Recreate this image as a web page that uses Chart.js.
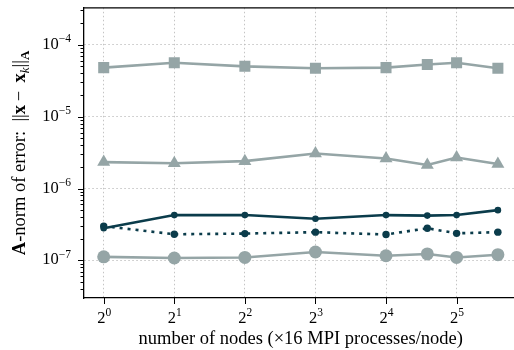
<!DOCTYPE html>
<html>
<head>
<meta charset="utf-8">
<script src="https://cdn.jsdelivr.net/npm/chart.js@4.4.1/dist/chart.umd.min.js"></script>
<style>
  html, body { margin: 0; padding: 0; background: #fff; overflow: hidden; }
  #wrap { position: relative; width: 514px; height: 350px; overflow: hidden; }
  canvas { position: absolute; left: 0; top: 0; }
</style>
</head>
<body>
<div id="wrap"><canvas id="errChart" width="530" height="350"></canvas></div>
<script>
// number of nodes (x16 MPI processes each)
const nodes = [1, 2, 4, 8, 16, 24, 32, 48];

// A-norm of the error per run
const errSquares   = [4.8e-5, 5.6e-5, 5.0e-5, 4.7e-5, 4.8e-5, 5.3e-5, 5.6e-5, 4.7e-5];
const errTriangles = [2.33e-6, 2.24e-6, 2.4e-6, 3.07e-6, 2.62e-6, 2.12e-6, 2.7e-6, 2.19e-6];
const errSolid     = [2.8e-7, 4.27e-7, 4.27e-7, 3.8e-7, 4.27e-7, 4.2e-7, 4.27e-7, 5.0e-7];
const errDotted    = [3.0e-7, 2.31e-7, 2.36e-7, 2.47e-7, 2.29e-7, 2.8e-7, 2.38e-7, 2.47e-7];
const errCircles   = [1.12e-7, 1.08e-7, 1.1e-7, 1.31e-7, 1.16e-7, 1.23e-7, 1.1e-7, 1.2e-7];

// axis ticks: value, base, exponent
const xTicks = [1, 2, 4, 8, 16, 32];
const xTickExps = ['0', '1', '2', '3', '4', '5'];
const yTicks = [1e-7, 1e-6, 1e-5, 1e-4];
const yTickExps = ['−7', '−6', '−5', '−4'];

const GREY = '#95a5a6';
const DARK = '#0b3c4b';
const SERIF = '"Liberation Serif", "DejaVu Serif", serif';

const xMin = 0.824, xMax = 58.2;
const yMin = 3.13e-8, yMax = 3.26e-4;

// every 1..9 x 10^k inside the y range, for minor tick marks
const yAllTicks = [];
for (let e = -8; e <= -3; e++) {
  for (let m = 1; m <= 9; m++) {
    const v = m * Math.pow(10, e);
    if (v >= yMin && v <= yMax) yAllTicks.push(v);
  }
}
const isDecade = v => Math.abs(Math.log10(v) - Math.round(Math.log10(v))) < 1e-9;

function series(data, style) {
  return Object.assign({
    data: nodes.map((n, i) => ({ x: n, y: data[i] })),
    tension: 0,
    borderWidth: 2.6,
    pointBorderWidth: 0,
    pointHoverRadius: 0
  }, style);
}

// draws a run list (text + font + vertical shift) starting at x, returns width
function measureRuns(ctx, runs) {
  let w = 0;
  runs.forEach(r => { ctx.font = r.f; r.w = ctx.measureText(r.t).width; w += r.w; });
  return w;
}
function drawRuns(ctx, runs, x, y) {
  runs.forEach(r => {
    ctx.font = r.f;
    ctx.fillText(r.t, x, y + (r.dy || 0));
    x += r.w;
  });
}

const BASE = '16.5px ' + SERIF;
const SUP = '11.5px ' + SERIF;

// top spine, tick marks, tick labels with exponents and the mixed-font y title
const framePlugin = {
  id: 'frame',
  afterDraw(chart) {
    const ctx = chart.ctx;
    const a = chart.chartArea;
    const xs = chart.scales.x, ys = chart.scales.y;
    ctx.save();
    ctx.strokeStyle = '#000';
    ctx.lineWidth = 1.3;
    ctx.beginPath();
    ctx.moveTo(a.left - 0.6, a.top);
    ctx.lineTo(a.right, a.top);
    ctx.stroke();

    ctx.lineWidth = 1;
    ctx.beginPath();
    yAllTicks.forEach(v => {
      const y = Math.round(ys.getPixelForValue(v)) + 0.5;
      const len = isDecade(v) ? 6 : 3.5;
      ctx.moveTo(a.left, y);
      ctx.lineTo(a.left - len, y);
    });
    xTicks.forEach(v => {
      const x = Math.round(xs.getPixelForValue(v)) + 0.5;
      ctx.moveTo(x, a.bottom);
      ctx.lineTo(x, a.bottom + 6);
    });
    ctx.stroke();

    ctx.fillStyle = '#000';
    ctx.textBaseline = 'alphabetic';
    ctx.textAlign = 'left';

    yTicks.forEach((v, i) => {
      const runs = [{ t: '10', f: BASE }, { t: yTickExps[i], f: SUP, dy: -6.5 }];
      const w = measureRuns(ctx, runs);
      drawRuns(ctx, runs, a.left - 13 - w, ys.getPixelForValue(v) + 4);
    });
    xTicks.forEach((v, i) => {
      const runs = [{ t: '2', f: BASE }, { t: xTickExps[i], f: SUP, dy: -7 }];
      const w = measureRuns(ctx, runs);
      drawRuns(ctx, runs, xs.getPixelForValue(v) - w / 2 + 0.5, a.bottom + 25);
    });

    // A-norm of error: ||x - x_k||_A
    const T = '18.5px ' + SERIF;
    const runs = [
      { t: 'A', f: 'bold ' + T },
      { t: '-norm of error:  ', f: T },
      { t: '||', f: T },
      { t: 'x', f: 'bold ' + T },
      { t: '\u2009−\u2009 ', f: T },
      { t: 'x', f: 'bold ' + T },
      { t: 'k', f: 'italic 13px ' + SERIF, dy: 3.5 },
      { t: '||', f: T },
      { t: 'A', f: 'bold 13px ' + SERIF, dy: 4 }
    ];
    const total = measureRuns(ctx, runs);
    ctx.translate(25, (a.top + a.bottom) / 2);
    ctx.rotate(-Math.PI / 2);
    drawRuns(ctx, runs, -total / 2, 0);
    ctx.restore();
  }
};

new Chart(document.getElementById('errChart'), {
  type: 'line',
  data: {
    datasets: [
      series(errSolid, { borderColor: DARK, backgroundColor: DARK, pointStyle: 'circle', pointRadius: 3.3 }),
      series(errDotted, { borderColor: DARK, backgroundColor: DARK, pointStyle: 'circle', pointRadius: 3.7, borderDash: [3, 5] }),
      series(errCircles, { borderColor: GREY, backgroundColor: GREY, pointStyle: 'circle', pointRadius: 6.5 }),
      series(errTriangles, { borderColor: GREY, backgroundColor: GREY, pointStyle: 'triangle', pointRadius: 7.5 }),
      series(errSquares, { borderColor: GREY, backgroundColor: GREY, pointStyle: 'rect', pointRadius: 7.8 })
    ]
  },
  options: {
    responsive: false,
    animation: false,
    events: [],
    layout: { padding: { top: 6, right: 12.5, left: 0, bottom: 0 } },
    plugins: { legend: { display: false }, tooltip: { enabled: false } },
    scales: {
      x: {
        type: 'logarithmic',
        min: xMin,
        max: xMax,
        afterBuildTicks: s => { s.ticks = xTicks.map(v => ({ value: v })); },
        afterFit: s => { s.height = 52; },
        ticks: { display: false, autoSkip: false },
        grid: { color: '#bdbdbd', lineWidth: 0.9, drawTicks: false },
        border: { display: true, color: '#000', width: 1.3, dash: [1.5, 2.5] },
        title: {
          display: true,
          text: 'number of nodes (×16 MPI processes/node)',
          color: '#000',
          font: { family: SERIF, size: 18.5 },
          padding: { top: 0, bottom: 0 }
        }
      },
      y: {
        type: 'logarithmic',
        min: yMin,
        max: yMax,
        afterBuildTicks: s => { s.ticks = yAllTicks.map(v => ({ value: v })); },
        afterFit: s => { s.width = 84; },
        ticks: { display: false, autoSkip: false },
        grid: {
          color: c => (c.tick && isDecade(c.tick.value)) ? '#bdbdbd' : 'rgba(0,0,0,0)',
          lineWidth: 0.9,
          drawTicks: false
        },
        border: { display: true, color: '#000', width: 1.3, dash: [1.5, 2.5] }
      }
    }
  },
  plugins: [framePlugin]
});
</script>
</body>
</html>
